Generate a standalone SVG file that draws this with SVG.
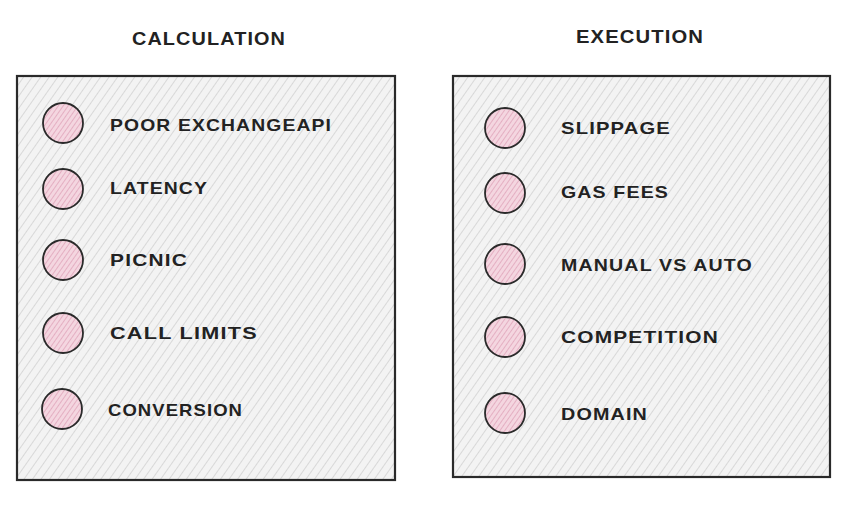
<svg xmlns="http://www.w3.org/2000/svg" width="858" height="508" viewBox="0 0 858 508">
<defs>
<pattern id="hatch" patternUnits="userSpaceOnUse" width="7" height="7" patternTransform="rotate(35)">
<rect width="7" height="7" fill="#f3f3f3"/>
<line x1="0" y1="0" x2="0" y2="7" stroke="#d2d2d2" stroke-width="1.6"/>
</pattern>
<pattern id="phatch" patternUnits="userSpaceOnUse" width="4" height="4" patternTransform="rotate(35)">
<rect width="4" height="4" fill="#f4d6e0"/>
<line x1="0" y1="0" x2="0" y2="4" stroke="#d995ae" stroke-width="1.2"/>
</pattern>
</defs>
<style>
.box{fill:url(#hatch);stroke:#2a2a2a;stroke-width:2.2}
.dot{fill:url(#phatch);stroke:#2a2a2a;stroke-width:1.8}
text{font-family:"Liberation Sans",Arial,sans-serif;font-weight:bold;fill:#222;font-size:17px;letter-spacing:1px}
.title{text-anchor:middle;font-size:18px}
</style>
<rect width="858" height="508" fill="#ffffff"/>
<g id="calculation">
<text class="title" x="209" y="45" textLength="154" lengthAdjust="spacingAndGlyphs">CALCULATION</text>
<rect class="box" x="17" y="76" width="378" height="404"/>
<g id="c1"><circle class="dot" cx="63" cy="123" r="20"/><text x="110" y="131" textLength="222" lengthAdjust="spacingAndGlyphs">POOR EXCHANGEAPI</text></g>
<g id="c2"><circle class="dot" cx="63" cy="189" r="20"/><text x="110" y="194" textLength="98" lengthAdjust="spacingAndGlyphs">LATENCY</text></g>
<g id="c3"><circle class="dot" cx="63" cy="260" r="20"/><text x="110" y="266" textLength="78" lengthAdjust="spacingAndGlyphs">PICNIC</text></g>
<g id="c4"><circle class="dot" cx="63" cy="333" r="20"/><text x="110" y="339" textLength="148" lengthAdjust="spacingAndGlyphs">CALL LIMITS</text></g>
<g id="c5"><circle class="dot" cx="62" cy="409" r="20"/><text x="108" y="416" textLength="135" lengthAdjust="spacingAndGlyphs">CONVERSION</text></g>
</g>
<g id="execution">
<text class="title" x="640" y="43" textLength="128" lengthAdjust="spacingAndGlyphs">EXECUTION</text>
<rect class="box" x="453" y="76" width="377" height="401"/>
<g id="e1"><circle class="dot" cx="505" cy="128" r="20"/><text x="561" y="134" textLength="110" lengthAdjust="spacingAndGlyphs">SLIPPAGE</text></g>
<g id="e2"><circle class="dot" cx="505" cy="193" r="20"/><text x="561" y="198" textLength="108" lengthAdjust="spacingAndGlyphs">GAS FEES</text></g>
<g id="e3"><circle class="dot" cx="505" cy="264" r="20"/><text x="561" y="271" textLength="192" lengthAdjust="spacingAndGlyphs">MANUAL VS AUTO</text></g>
<g id="e4"><circle class="dot" cx="505" cy="337" r="20"/><text x="561" y="343" textLength="158" lengthAdjust="spacingAndGlyphs">COMPETITION</text></g>
<g id="e5"><circle class="dot" cx="505" cy="413" r="20"/><text x="561" y="420" textLength="87" lengthAdjust="spacingAndGlyphs">DOMAIN</text></g>
</g>
<g id="connectors"/>
</svg>
